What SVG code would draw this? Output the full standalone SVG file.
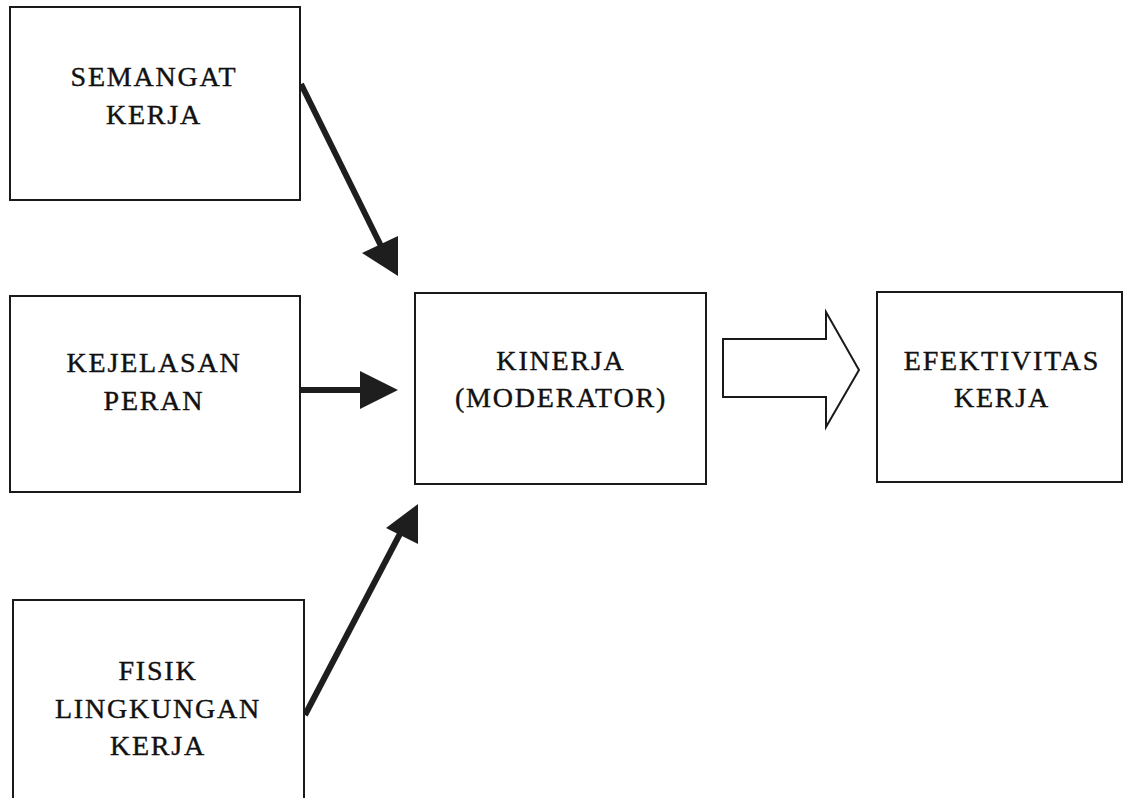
<svg xmlns="http://www.w3.org/2000/svg" width="1123" height="798" viewBox="0 0 1123 798">
<style>
.box{fill:#fff;stroke:#1a1a1a;stroke-width:2}
.t{font-family:"Liberation Serif","Times New Roman",serif;font-size:28px;fill:#111;stroke:#111;stroke-width:0.4;text-anchor:middle;letter-spacing:1.8px}
.ln{stroke:#1e1e1e;stroke-width:6;fill:none}
.hd{fill:#1e1e1e}
</style>
<rect width="1123" height="798" fill="#fff"/>
<g id="connectors">
<line class="ln" x1="301" y1="84" x2="382" y2="248"/>
<polygon class="hd" points="398,276 362,253 398,236"/>
<line class="ln" x1="301" y1="390" x2="365" y2="390"/>
<polygon class="hd" points="398,390 360,371 360,409"/>
<line class="ln" x1="305" y1="715" x2="403" y2="528"/>
<polygon class="hd" points="418,504 386,528 418,544"/>
<polygon points="723,339 826,339 826,312 859,370 826,427 826,397 723,397" fill="#fff" stroke="#1a1a1a" stroke-width="2"/>
</g>
<g id="node-semangat">
<rect class="box" x="10" y="7" width="290" height="193"/>
<text class="t" x="154" y="86">SEMANGAT</text>
<text class="t" x="154" y="124">KERJA</text>
</g>
<g id="node-kejelasan">
<rect class="box" x="10" y="296" width="290" height="196"/>
<text class="t" x="154" y="372">KEJELASAN</text>
<text class="t" x="154" y="410">PERAN</text>
</g>
<g id="node-kinerja">
<rect class="box" x="415" y="293" width="291" height="191"/>
<text class="t" x="561" y="370">KINERJA</text>
<text class="t" x="561" y="407">(MODERATOR)</text>
</g>
<g id="node-efektivitas">
<rect class="box" x="877" y="292" width="245" height="190"/>
<text class="t" x="1002" y="370">EFEKTIVITAS</text>
<text class="t" x="1002" y="407">KERJA</text>
</g>
<g id="node-fisik">
<rect class="box" x="13" y="600" width="291" height="220"/>
<text class="t" x="158" y="680">FISIK</text>
<text class="t" x="158" y="718">LINGKUNGAN</text>
<text class="t" x="158" y="755">KERJA</text>
</g>
</svg>
